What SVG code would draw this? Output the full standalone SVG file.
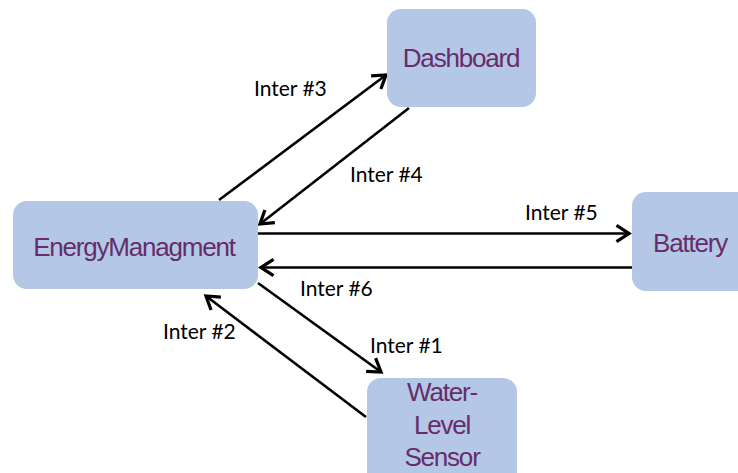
<svg xmlns="http://www.w3.org/2000/svg" width="738" height="473" viewBox="0 0 738 473">
  <style>
    .box { fill: #b4c7e7; }
    .name { font-family: "Liberation Sans", Arial, sans-serif; font-size: 26px; letter-spacing: -1.2px; fill: #662d6a; text-anchor: middle; }
    .link { stroke: #000; stroke-width: 2.6; fill: none; marker-end: url(#arrow); }
    .lbl { font-family: Lato, "Open Sans", sans-serif; font-size: 21px; fill: #000; }
  </style>
  <defs>
    <marker id="arrow" markerUnits="userSpaceOnUse" markerWidth="20" markerHeight="20" viewBox="-12 -8 14 16" refX="0" refY="0" orient="auto">
      <path d="M -10 -6.5 L 0 0 L -10 6.5" fill="none" stroke="#000" stroke-width="2.6" stroke-linejoin="miter"/>
    </marker>
  </defs>
  <rect width="738" height="473" fill="#fff"/>

  <g id="connectors">
    <line class="link" x1="219" y1="200" x2="386" y2="75"/>
    <line class="link" x1="409" y1="108" x2="260" y2="224"/>
    <line class="link" x1="258" y1="233.5" x2="629" y2="233.5"/>
    <line class="link" x1="632" y1="267.5" x2="261" y2="267.5"/>
    <line class="link" x1="258" y1="283" x2="381" y2="372"/>
    <line class="link" x1="366" y1="417" x2="206" y2="296"/>
    <text class="lbl" x="254" y="96">Inter #3</text>
    <text class="lbl" x="350" y="182">Inter #4</text>
    <text class="lbl" x="525" y="220">Inter #5</text>
    <text class="lbl" x="300" y="296">Inter #6</text>
    <text class="lbl" x="370" y="353">Inter #1</text>
    <text class="lbl" x="163" y="339">Inter #2</text>
  </g>

  <g id="dashboard">
    <rect class="box" x="387" y="9" width="149" height="98" rx="14"/>
    <text class="name" x="461" y="67">Dashboard</text>
  </g>
  <g id="energy-managment">
    <rect class="box" x="13" y="201" width="245" height="88" rx="14"/>
    <text class="name" x="134" y="256">EnergyManagment</text>
  </g>
  <g id="battery">
    <rect class="box" x="632" y="192" width="130" height="99" rx="14"/>
    <text class="name" x="690" y="252">Battery</text>
  </g>
  <g id="water-level-sensor">
    <rect class="box" x="367" y="378" width="150" height="120" rx="14"/>
    <text class="name" x="442" y="401">Water-</text>
    <text class="name" x="442" y="434">Level</text>
    <text class="name" x="442" y="466">Sensor</text>
  </g>
</svg>
